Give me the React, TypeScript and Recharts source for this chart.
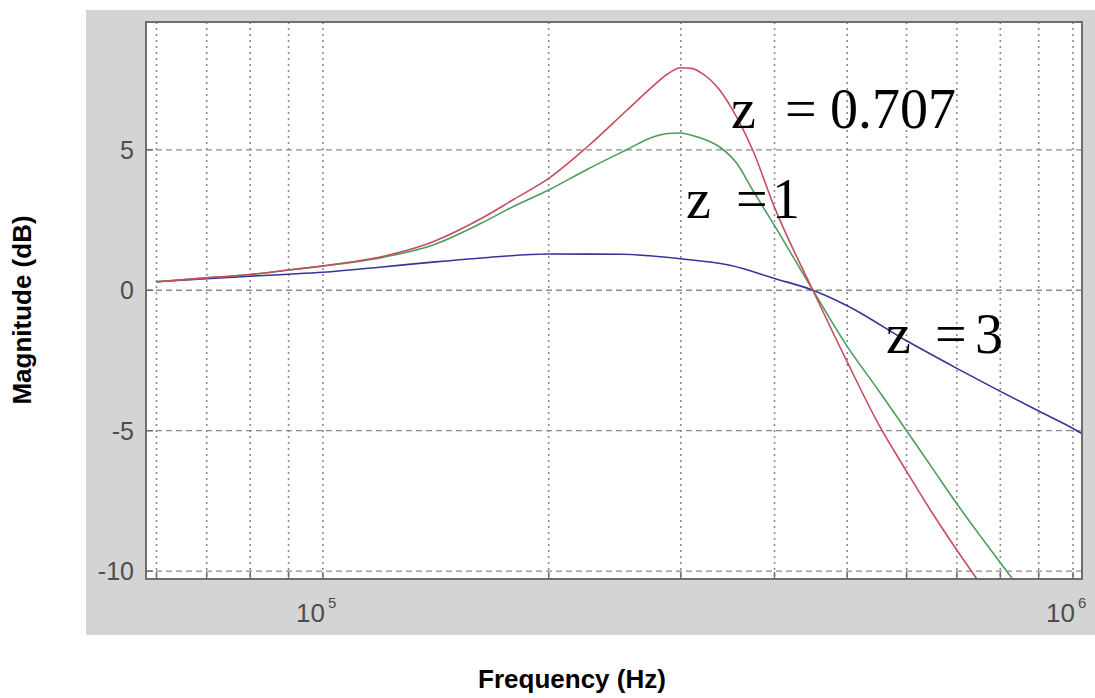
import { CartesianGrid, Line, LineChart, XAxis, YAxis } from "recharts";

// frequencies (Hz) and magnitudes (dB)
const freqZ0707 = [6e4, 7e4, 8e4, 9e4, 1e5, 1.2e5, 1.4e5, 1.63e5, 1.8e5, 2e5, 2.25e5, 2.54e5, 2.75e5, 2.88e5, 3e5, 3.1e5, 3.19e5, 3.38e5, 3.56e5, 3.74e5, 4e5, 4.5e5, 5e5, 5.5e5, 6e5, 6.5e5, 7e5, 7.5e5];
const magZ0707 = [0.3, 0.44, 0.56, 0.72, 0.87, 1.2, 1.72, 2.57, 3.25, 3.98, 5.1, 6.4, 7.25, 7.7, 7.92, 7.9, 7.75, 7.13, 6.17, 5.0, 2.95, 0.0, -2.55, -4.75, -6.45, -7.95, -9.25, -10.4];

const freqZ1 = [6e4, 7e4, 8e4, 9e4, 1e5, 1.2e5, 1.4e5, 1.63e5, 1.8e5, 2e5, 2.25e5, 2.54e5, 2.75e5, 2.88e5, 3e5, 3.1e5, 3.19e5, 3.38e5, 3.56e5, 3.74e5, 4e5, 4.5e5, 5e5, 5.5e5, 6e5, 6.5e5, 7e5, 7.5e5, 8e5, 8.4e5];
const magZ1 = [0.3, 0.44, 0.56, 0.72, 0.86, 1.17, 1.6, 2.4, 3.0, 3.57, 4.3, 5.0, 5.45, 5.58, 5.6, 5.52, 5.42, 5.1, 4.53, 3.57, 2.3, 0.0, -2.0, -3.55, -5.0, -6.35, -7.6, -8.7, -9.7, -10.45];

const freqZ3 = [6e4, 7e4, 8e4, 9e4, 1e5, 1.2e5, 1.4e5, 1.63e5, 2e5, 2.5e5, 3e5, 3.5e5, 4e5, 4.5e5, 5e5, 6e5, 7e5, 8e5, 9e5, 1e6, 1.03e6];
const magZ3 = [0.3, 0.41, 0.5, 0.57, 0.64, 0.83, 1.0, 1.15, 1.29, 1.28, 1.12, 0.88, 0.42, 0.0, -0.55, -1.8, -2.78, -3.6, -4.3, -4.92, -5.12];

const xTicks = [6e4, 7e4, 8e4, 9e4, 1e5, 2e5, 3e5, 4e5, 5e5, 6e5, 7e5, 8e5, 9e5, 1e6];
const xLabels: Record<number, string> = { 100000: "5", 1000000: "6" };
const yTicks = [-10, -5, 0, 5];

const toPoints = (f: number[], m: number[]) => f.map((v, i) => ({ f: v, db: m[i] }));

const dataZ0707 = toPoints(freqZ0707, magZ0707);
const dataZ1 = toPoints(freqZ1, magZ1);
const dataZ3 = toPoints(freqZ3, magZ3);

const tickFont = '"Liberation Sans", Arial, sans-serif';
const tickColor = "#4d4d4d";

function FreqTick(props: any) {
  const { x, y, payload } = props;
  const exp = xLabels[payload.value];
  return (
    <g>
      <line x1={x} x2={x} y1={y} y2={y - 7} stroke="#6e6e6e" strokeWidth={1.5} />
      {exp && (
        <>
          <text x={x + 2} y={y + 43} textAnchor="end" fontSize={26} fill={tickColor} fontFamily={tickFont}>
            10
          </text>
          <text x={x + 5} y={y + 29} fontSize={15} fill={tickColor} fontFamily={tickFont}>
            {exp}
          </text>
        </>
      )}
    </g>
  );
}

function MagTick(props: any) {
  const { x, y, payload } = props;
  return (
    <g>
      <line x1={x} x2={x + 7} y1={y} y2={y} stroke="#6e6e6e" strokeWidth={1.5} />
      <text x={x - 12} y={y + 9} textAnchor="end" fontSize={25} fill={tickColor} fontFamily={tickFont}>
        {payload.value}
      </text>
    </g>
  );
}

const serif = '"Liberation Serif", "Times New Roman", serif';

export default function App() {
  return (
    <div style={{ position: "absolute", left: 0, top: 0, width: 1095, height: 698, background: "#fff" }}>
      <div style={{ position: "absolute", left: 86, top: 10, width: 1009, height: 625, background: "#d4d4d4" }} />
      <div style={{ position: "absolute", left: 0, top: 0 }}>
        <LineChart width={1095} height={698} margin={{ top: 22, right: 13, left: 86, bottom: 59 }}>
          <CartesianGrid vertical={false} fill="#ffffff" stroke="#8a8a8a" strokeWidth={1.3} strokeDasharray="6 4" />
          <CartesianGrid horizontal={false} stroke="#8a8a8a" strokeWidth={1.6} strokeDasharray="2 4" />
          <XAxis
            dataKey="f"
            type="number"
            scale="log"
            domain={[58100, 1028000]}
            allowDataOverflow
            ticks={xTicks}
            interval={0}
            height={60}
            tickSize={0}
            tickMargin={0}
            axisLine={false}
            tick={<FreqTick />}
          />
          <YAxis
            type="number"
            domain={[-10.28, 9.55]}
            allowDataOverflow
            ticks={yTicks}
            interval={0}
            width={60}
            tickSize={0}
            tickMargin={0}
            axisLine={false}
            tick={<MagTick />}
          />
          <Line data={dataZ3} dataKey="db" type="monotone" stroke="#35359a" strokeWidth={1.6} dot={false} isAnimationActive={false} />
          <Line data={dataZ1} dataKey="db" type="monotone" stroke="#4c9c5c" strokeWidth={1.6} dot={false} isAnimationActive={false} />
          <Line data={dataZ0707} dataKey="db" type="monotone" stroke="#c84d5c" strokeWidth={1.6} dot={false} isAnimationActive={false} />
        </LineChart>
      </div>
      <svg width={1095} height={698} style={{ position: "absolute", left: 0, top: 0, pointerEvents: "none" }}>
        <rect x={146} y={22} width={936} height={557} fill="none" stroke="#6e6e6e" strokeWidth={2} />
        <text x={572} y={688} textAnchor="middle" fontSize={26} fontWeight="bold" fontFamily={tickFont} fill="#000">
          Frequency (Hz)
        </text>
        <text
          transform="translate(31,310) rotate(-90)"
          textAnchor="middle"
          fontSize={26}
          fontWeight="bold"
          fontFamily={tickFont}
          fill="#000"
        >
          Magnitude (dB)
        </text>
        <g fontFamily={serif} fontSize={56} fill="#000">
          <text y={128}>
            <tspan x={731}>z</tspan>
            <tspan x={785}>=</tspan>
            <tspan x={830}>0.707</tspan>
          </text>
          <text y={218}>
            <tspan x={686}>z</tspan>
            <tspan x={736}>=</tspan>
            <tspan x={772}>1</tspan>
          </text>
          <text y={353}>
            <tspan x={886}>z</tspan>
            <tspan x={935}>=</tspan>
            <tspan x={975}>3</tspan>
          </text>
        </g>
      </svg>
    </div>
  );
}
